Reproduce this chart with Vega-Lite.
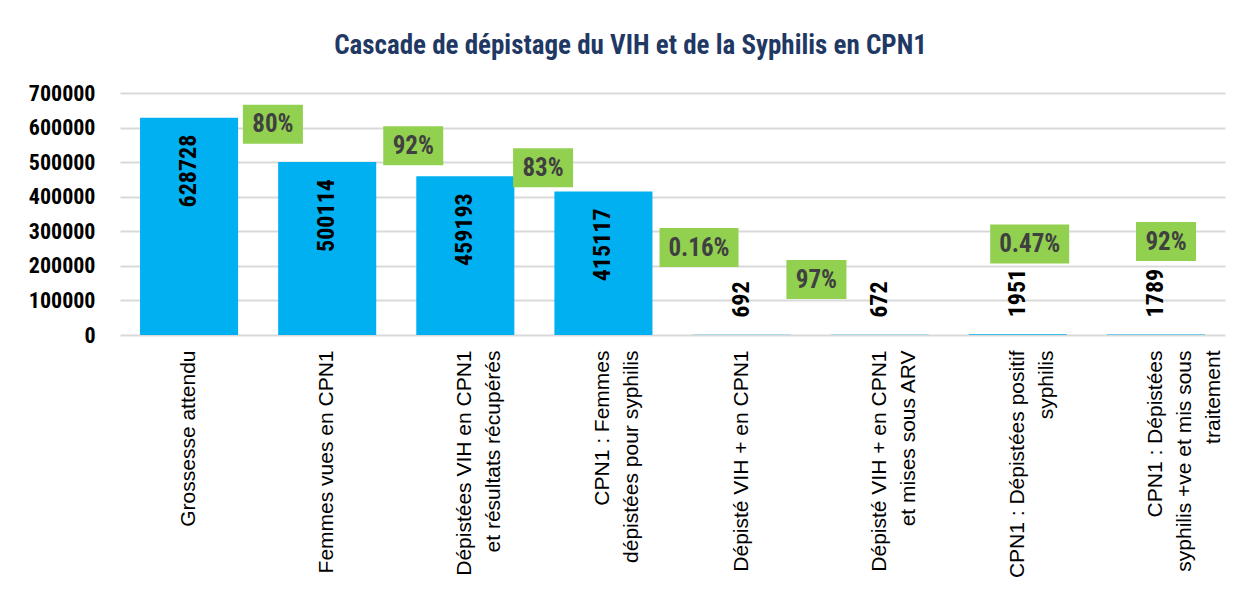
{
  "$schema": "https://vega.github.io/schema/vega-lite/v6.json",
  "autosize": "none",
  "width": 1105,
  "height": 242,
  "padding": {"left": 120, "top": 93, "right": 28, "bottom": 273},
  "background": "white",
  "title": {
    "text": "Cascade de dépistage du VIH et de la Syphilis en CPN1",
    "font": "Roboto Condensed, DejaVu Sans Condensed, Roboto",
    "fontSize": 27,
    "fontWeight": "bold",
    "color": "#1F3864",
    "anchor": "middle",
    "dx": -42,
    "offset": 22
  },
  "config": {
    "view": {"stroke": null},
    "font": "Roboto Condensed, DejaVu Sans Condensed, Roboto",
    "axisY": {
      "title": null,
      "labelFontSize": 22,
      "labelFontWeight": "bold",
      "labelColor": "#000000",
      "labelPadding": 25,
      "labelFlush": false,
      "labelOverlap": false,
      "domain": false,
      "ticks": false,
      "grid": true,
      "gridColor": "#D9D9D9",
      "gridWidth": 2
    }
  },
  "layer": [
    {
      "data": {
        "values": [
          {"etape": "Grossesse attendu", "valeur": 628728},
          {"etape": "Femmes vues en CPN1", "valeur": 500114},
          {"etape": "Dépistées VIH en CPN1\net résultats récupérés", "valeur": 459193},
          {"etape": "CPN1 : Femmes\ndépistées pour syphilis", "valeur": 415117},
          {"etape": "Dépisté VIH + en CPN1", "valeur": 692},
          {"etape": "Dépisté VIH + en CPN1\net mises sous ARV", "valeur": 672},
          {"etape": "CPN1 : Dépistées positif\nsyphilis", "valeur": 1951},
          {"etape": "CPN1 : Dépistées\nsyphilis +ve et mis sous\ntraitement", "valeur": 1789}
        ]
      },
      "encoding": {
        "x": {
          "field": "etape",
          "type": "nominal",
          "sort": null,
          "scale": {"paddingInner": 0.29, "paddingOuter": 0.145},
          "axis": {
            "title": null,
            "labelExpr": "split(datum.label, '\\n')",
            "labelAngle": 270,
            "labelAlign": "right",
            "labelBaseline": "middle",
            "labelFont": "Liberation Sans",
            "labelFontSize": 21,
            "labelLineHeight": 29,
            "labelColor": "#000000",
            "labelPadding": 15,
            "labelLimit": 400,
            "labelOverlap": false,
            "domain": false,
            "ticks": false
          }
        },
        "y": {
          "field": "valeur",
          "type": "quantitative",
          "scale": {"domain": [0, 700000], "nice": false},
          "axis": {
            "values": [0, 100000, 200000, 300000, 400000, 500000, 600000, 700000],
            "format": "d"
          }
        }
      },
      "layer": [
        {"mark": {"type": "bar", "color": "#00B0F0"}},
        {
          "transform": [{"filter": "datum.valeur > 100000"}],
          "mark": {"type": "text", "angle": 270, "align": "right", "baseline": "middle", "dx": -17, "fontSize": 24, "fontWeight": "bold", "color": "#000000"},
          "encoding": {"text": {"field": "valeur", "type": "quantitative", "format": "d"}}
        },
        {
          "transform": [{"filter": "datum.valeur <= 100000"}],
          "mark": {"type": "text", "angle": 270, "align": "left", "baseline": "middle", "dx": 17, "fontSize": 24, "fontWeight": "bold", "color": "#000000"},
          "encoding": {"text": {"field": "valeur", "type": "quantitative", "format": "d"}}
        }
      ]
    },
    {
      "data": {
        "values": [
          {"position": 1.107, "niveau": 609600, "taux": "80%"},
          {"position": 2.123, "niveau": 547500, "taux": "92%"},
          {"position": 3.063, "niveau": 483900, "taux": "83%"},
          {"position": 4.192, "niveau": 252800, "taux": "0.16%"},
          {"position": 5.042, "niveau": 160300, "taux": "97%"},
          {"position": 6.586, "niveau": 262900, "taux": "0.47%"},
          {"position": 7.573, "niveau": 270100, "taux": "92%"}
        ]
      },
      "encoding": {
        "x": {"field": "position", "type": "quantitative", "scale": {"domain": [0, 8], "nice": false, "zero": false}, "axis": null},
        "y": {
          "field": "niveau",
          "type": "quantitative",
          "axis": {
            "values": [0, 100000, 200000, 300000, 400000, 500000, 600000, 700000],
            "format": "d"
          }
        }
      },
      "layer": [
        {
          "transform": [{"filter": "length(datum.taux) <= 3"}],
          "mark": {"type": "point", "filled": true, "opacity": 1, "color": "#92D050", "strokeWidth": 0, "size": 3600, "shape": "M-1,-0.65L1,-0.65L1,0.65L-1,0.65Z"}
        },
        {
          "transform": [{"filter": "length(datum.taux) > 3"}],
          "mark": {"type": "point", "filled": true, "opacity": 1, "color": "#92D050", "strokeWidth": 0, "size": 6241, "shape": "M-1,-0.494L1,-0.494L1,0.494L-1,0.494Z"}
        },
        {
          "mark": {"type": "text", "align": "center", "baseline": "middle", "fontSize": 25, "fontWeight": "bold", "color": "#404040"},
          "encoding": {"text": {"field": "taux", "type": "nominal"}}
        }
      ]
    }
  ],
  "resolve": {"scale": {"x": "independent"}}
}
